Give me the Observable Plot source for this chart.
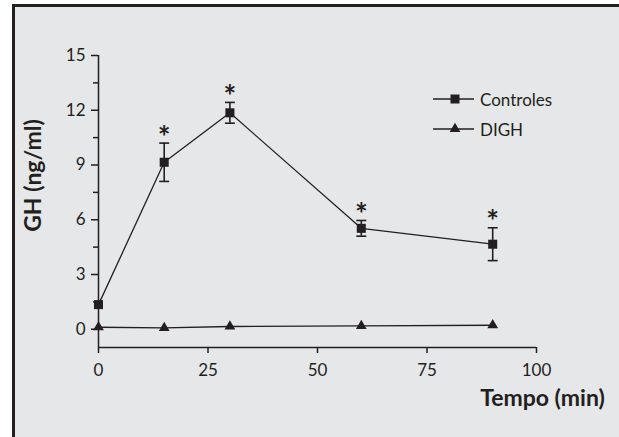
<!DOCTYPE html>
<html><head><meta charset="utf-8">
<script src="https://cdn.jsdelivr.net/npm/d3@7"></script>
<script src="https://cdn.jsdelivr.net/npm/@observablehq/plot@0.6"></script>
<style>
html,body{margin:0;padding:0;background:#fff;}
#wrap{position:relative;width:619px;height:437px;overflow:hidden;font-family:Lato,sans-serif;color:#231f20;}
#panel{position:absolute;left:12px;top:4px;width:700px;height:500px;border:3px solid #231f20;background:#e6e7e8;}
#chart{position:absolute;left:0;top:0;}
#legend{position:absolute;left:433px;top:84px;font-size:17px;}
#legend .row{display:flex;align-items:center;height:30px;}
#legend svg{display:block;margin-right:5px;}
</style></head><body>
<div id="wrap"><div id="panel"></div><div id="chart"></div><div id="legend"></div></div>
<script>
// ---- data ----
const times = [0, 15, 30, 60, 90];
const controles = [1.35, 9.15, 11.86, 5.53, 4.66];
const controlesErr = [0, 1.05, 0.57, 0.43, 0.9];
const digh = [0.11, 0.07, 0.15, 0.18, 0.22];
const significant = [false, true, true, true, true];
const seriesNames = ["Controles", "DIGH"];
const xTicks = [0, 25, 50, 75, 100];
const yTicks = [0, 3, 6, 9, 12, 15];
const yMinorTicks = [1.5, 4.5, 7.5, 10.5, 13.5];
const xDomain = [0, 100];
const yDomain = [-1, 15];
const xLabel = "Tempo (min)";
const yLabel = "GH (ng/ml)";

const ink = "#231f20";
const ctrlData = times.map((t, i) => ({t, v: controles[i], lo: controles[i] - controlesErr[i], hi: controles[i] + controlesErr[i], sig: significant[i], err: controlesErr[i]}));
const dighData = times.map((t, i) => ({t, v: digh[i]}));
const errData = ctrlData.filter(d => d.err > 0);
const capPoints = errData.flatMap(d => [{t: d.t, y: d.lo}, {t: d.t, y: d.hi}]);

const capSymbol = {draw(ctx, size) { const w = Math.sqrt(size); ctx.moveTo(-w / 2, 0); ctx.lineTo(w / 2, 0); }};

const plot = Plot.plot({
  width: 619,
  height: 437,
  marginLeft: 98,
  marginRight: 83,
  marginTop: 55,
  marginBottom: 90,
  style: {background: "transparent", fontFamily: "Lato, sans-serif", fontSize: "17px", color: ink},
  x: {domain: xDomain},
  y: {domain: yDomain},
  marks: [
    Plot.ruleX([xDomain[0]], {y1: yDomain[0], y2: yDomain[1], stroke: ink, strokeWidth: 1.5}),
    Plot.ruleY([yDomain[0]], {x1: xDomain[0], x2: xDomain[1], stroke: ink, strokeWidth: 1.5}),
    Plot.axisX(xTicks, {anchor: "bottom", tickSize: 6, tickPadding: 10, stroke: ink, strokeWidth: 1.5, fill: ink, label: null, fontSize: 17}),
    Plot.axisY(yTicks, {anchor: "left", tickSize: 7, tickPadding: 6, stroke: ink, strokeWidth: 1.5, fill: ink, label: null, fontSize: 17}),
    Plot.axisY(yMinorTicks, {anchor: "left", tickSize: 5, tickFormat: () => "", stroke: ink, strokeWidth: 1.5, label: null}),
    Plot.line(dighData, {x: "t", y: "v", stroke: ink, strokeWidth: 1.3}),
    Plot.line(ctrlData, {x: "t", y: "v", stroke: ink, strokeWidth: 1.3}),
    Plot.ruleX(errData, {x: "t", y1: "lo", y2: "hi", stroke: ink, strokeWidth: 1.6}),
    Plot.dot(capPoints, {x: "t", y: "y", symbol: capSymbol, r: 5.6, stroke: ink, strokeWidth: 1.6, fill: "none"}),
    Plot.dot(ctrlData, {x: "t", y: "v", symbol: "square", r: 5.1, fill: ink}),
    Plot.dot(dighData, {x: "t", y: "v", symbol: "triangle", r: 4, fill: ink}),
    Plot.text(ctrlData.filter(d => d.sig), {x: "t", y: "hi", text: () => "*", fontSize: 30, fontWeight: "bold", lineAnchor: "middle", dy: -5, fill: ink}),
    Plot.text([yLabel], {frameAnchor: "left", text: d => d, textAnchor: "middle", rotate: -90, dx: -65, dy: -26, fontSize: 23, fontWeight: "bold", fill: ink}),
    Plot.text([xLabel], {frameAnchor: "bottom-right", text: d => d, textAnchor: "middle", dx: 6, dy: 58, fontSize: 23, fontWeight: "bold", fill: ink})
  ]
});
document.getElementById("chart").appendChild(plot);

// legend
const legend = d3.select("#legend");
const symbols = [d3.symbolSquare, d3.symbolTriangle];
const sizes = [81, 50];
seriesNames.forEach((name, i) => {
  const row = legend.append("div").attr("class", "row");
  const svg = row.append("svg").attr("width", 42).attr("height", 20);
  svg.append("line").attr("x1", 0).attr("x2", 41).attr("y1", 10).attr("y2", 10).attr("stroke", ink).attr("stroke-width", 1.3);
  svg.append("path").attr("d", d3.symbol(symbols[i], sizes[i])()).attr("transform", "translate(22,10)").attr("fill", ink);
  row.append("span").text(name);
});
</script>
</body></html>
